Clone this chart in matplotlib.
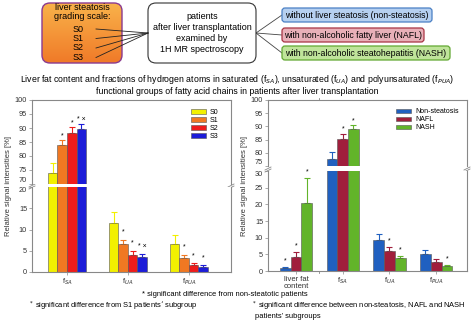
import numpy as np
import matplotlib.pyplot as plt
from matplotlib.patches import FancyBboxPatch
from matplotlib.colors import LinearSegmentedColormap

plt.rcParams['font.family'] = ['Liberation Sans', 'DejaVu Sans']

# left chart: steatosis grades
grades = ['S0', 'S1', 'S2', 'S3']
grade_colors = ['#f2f000', '#f07822', '#ee1c1c', '#1c1cd8']
left_groups = ['f$_{SA}$', 'f$_{UA}$', 'f$_{PUA}$']
left_vals = [[74.0, 11.5, 6.5],
             [84.0, 6.6, 3.3],
             [88.3, 4.1, 1.6],
             [89.8, 3.5, 1.2]]
left_errs = [[3.5, 2.7, 2.3],
             [1.7, 1.0, 0.8],
             [2.0, 0.9, 0.5],
             [1.5, 0.7, 0.4]]
left_stars = [['', '', ''],
              ['*', '*', '*'],
              ['*', '*', '*'],
              ['* \u00d7', '* \u00d7', '*']]

# right chart: patient subgroups
subgroups = ['Non-steatosis', 'NAFL', 'NASH']
sub_colors = ['#2060c0', '#a01e3c', '#62b42a']
right_groups = ['liver fat\ncontent', 'f$_{SA}$', 'f$_{UA}$', 'f$_{PUA}$']
right_vals = [[1.0, 77.5, 9.2, 5.0],
              [4.1, 85.3, 6.0, 2.8],
              [20.5, 89.2, 3.8, 1.4]]
right_errs = [[0.2, 2.8, 1.9, 1.4],
              [1.7, 2.0, 1.1, 0.9],
              [7.5, 1.3, 0.6, 0.4]]
right_stars = [['*', '', '', ''],
               ['*', '*', '*', ''],
               ['*', '*', '*', '*']]

W, H = 474, 323
fig = plt.figure(figsize=(W / 100, H / 100), dpi=100)


def px_axes(x0, x1, y0, y1):
    return fig.add_axes([x0 / W, (H - y1) / H, (x1 - x0) / W, (y1 - y0) / H])


# ---- schematic on top ----
top = fig.add_axes([0, 0, 1, 1])
top.set_xlim(0, W)
top.set_ylim(H, 0)
top.axis('off')

orange = FancyBboxPatch((42, 3), 80, 60, boxstyle='round,pad=0,rounding_size=8',
                        fc='none', ec='#8a3a90', lw=1.0, zorder=3)
top.add_patch(orange)
grad = np.linspace(0, 1, 100).reshape(-1, 1)
im = top.imshow(grad, extent=(42, 122, 63, 3),
                cmap=LinearSegmentedColormap.from_list('o', ['#f9b24a', '#f07a28']),
                aspect='auto', zorder=2, origin='upper')
im.set_clip_path(orange)
top.text(82, 12, 'liver steatosis\ngrading scale:', ha='center', va='center', fontsize=6.5,
         linespacing=1.05, zorder=4)
for i, g in enumerate(grades):
    top.text(78, 29 + i * 9.5, g, ha='center', va='center', fontsize=6.5, zorder=4)
    top.plot([96, 148], [29 + i * 9.5, 33], color='#222222', lw=0.6, zorder=4)

top.add_patch(FancyBboxPatch((148, 3), 108, 60, boxstyle='round,pad=0,rounding_size=8',
                             fc='white', ec='#333333', lw=0.8, zorder=3))
top.text(202, 33, 'patients\nafter liver transplantation\nexamined by\n1H MR spectroscopy',
         ha='center', va='center', fontsize=6.5, linespacing=1.25, zorder=4)

boxes = [(282, 8, 150, 14, '#b6d0f0', '#4a80c4', 'without liver steatosis (non-steatosis)'),
         (282, 28, 142, 14, '#e8b0b8', '#a83444', 'with non-alcoholic fatty liver (NAFL)'),
         (282, 46, 168, 14, '#bfe49a', '#62a832', 'with non-alcoholic steatohepatitis (NASH)')]
for bx, by, bw, bh, fc, ec, label in boxes:
    top.add_patch(FancyBboxPatch((bx, by), bw, bh, boxstyle='round,pad=0,rounding_size=3',
                                 fc=fc, ec=ec, lw=0.9, zorder=3))
    top.text(bx + bw / 2, by + bh / 2, label, ha='center', va='center', fontsize=6.3, zorder=4)
    top.plot([256, bx], [33, by + bh / 2], color='#444444', lw=0.6, zorder=2)

top.text(237, 80, 'Liver fat content and fractions of hydrogen atoms in saturated (f$_{SA}$), '
         'unsaturated (f$_{UA}$) and polyunsaturated (f$_{PUA}$)',
         ha='center', va='center', fontsize=6.3)
top.text(237, 92, 'functional groups of fatty acid chains in patients after liver transplantation',
         ha='center', va='center', fontsize=6.3)

top.text(225, 294, '* significant difference from non-steatotic patients', ha='center',
         va='center', fontsize=5.4)
top.text(28, 306, '$^*$ significant difference from S1 patients\u2019 subgroup', ha='left',
         va='center', fontsize=5.4)
top.text(251, 306, '$^*$ significant difference between non-steatosis, NAFL and NASH',
         ha='left', va='center', fontsize=5.4)
top.text(255, 316, 'patients\u2019 subgroups', ha='left', va='center', fontsize=5.4)

spine_col = '#888888'


def style(ax, upper):
    for s in ax.spines.values():
        s.set_color(spine_col)
        s.set_linewidth(0.8)
    if upper:
        ax.spines['bottom'].set_visible(False)
        ax.tick_params(axis='x', bottom=False, labelbottom=False)
    else:
        ax.spines['top'].set_visible(False)
    ax.tick_params(axis='both', labelsize=5.3, length=2, width=0.5, color=spine_col,
                   labelcolor='#333333', pad=1.5)


def draw_panel(ax_up, ax_lo, vals, errs, stars, colors, labels, width, xlim, ylims, ysteps):
    n_groups = len(vals[0])
    n_series = len(vals)
    x = np.arange(1, n_groups + 1)
    for ax in (ax_up, ax_lo):
        for i in range(n_series):
            xs = x + (i - (n_series - 1) / 2) * width
            ax.bar(xs, vals[i], width, color=colors[i], edgecolor='#555555', lw=0.4,
                   label=labels[i], zorder=2)
            ax.errorbar(xs, vals[i], yerr=[np.zeros(n_groups), errs[i]], fmt='none',
                        ecolor=colors[i], elinewidth=0.8, capsize=2, capthick=0.8, zorder=1)
        ax.set_xlim(*xlim)
    ax_up.set_ylim(*ylims[0])
    ax_lo.set_ylim(*ylims[1])
    ax_up.set_yticks(np.arange(ylims[0][0], ylims[0][1] + 1, ysteps))
    ax_lo.set_yticks(np.arange(ylims[1][0], ylims[1][1] + 1, ysteps))
    style(ax_up, True)
    style(ax_lo, False)
    # keep the two labels at the break apart
    ax_up.get_yticklabels()[0].set_va('bottom')
    ax_lo.get_yticklabels()[-1].set_va('top')
    # stars
    for i in range(n_series):
        xs = x + (i - (n_series - 1) / 2) * width
        for j in range(n_groups):
            if not stars[i][j]:
                continue
            top_y = vals[i][j] + errs[i][j]
            ax = ax_up if top_y > ylims[1][1] else ax_lo
            off = 1.6 if ax is ax_up else 1.8
            ax.text(xs[j], top_y + off, stars[i][j], ha='center', va='center',
                    fontsize=5, clip_on=False)
    return x


# ---- left chart ----
lu = px_axes(32, 231, 100, 184)
ll = px_axes(32, 231, 187, 272)
xl = draw_panel(lu, ll, left_vals, left_errs, left_stars, grade_colors, grades, 0.156,
                (0.426, 3.69), [(70, 100), (0, 20)], 5)
ll.set_xticks(xl)
ll.set_xticklabels(left_groups, fontsize=5.5)
lu.legend(loc='upper right', bbox_to_anchor=(0.97, 0.97), frameon=False, fontsize=5,
          handlelength=2.2, handleheight=0.6, labelspacing=0.15, handletextpad=0.6)
fig.text(9 / W, (H - 186) / H, 'Relative signal intensities [%]', rotation=90,
         ha='center', va='center', fontsize=5.5, color='#333333')

# ---- right chart ----
ru = px_axes(268, 467, 100, 166)
rl = px_axes(268, 467, 171, 271)
xr = draw_panel(ru, rl, right_vals, right_errs, right_stars, sub_colors, subgroups, 0.23,
                (0.40, 4.66), [(75, 100), (0, 30)], 5)
rl.set_xticks(xr)
rl.set_xticklabels(right_groups, fontsize=5.5, linespacing=0.95)
ru.legend(loc='upper right', bbox_to_anchor=(0.99, 0.97), frameon=False, fontsize=5,
          handlelength=2.2, handleheight=0.6, labelspacing=0.15, handletextpad=0.6)
fig.text(245 / W, (H - 186) / H, 'Relative signal intensities [%]', rotation=90,
         ha='center', va='center', fontsize=5.5, color='#333333')

# break marks on the axes
for bx, by in [(32, 185.5), (231, 185.5), (268, 168.5), (467, 168.5)]:
    top.plot([bx - 3, bx + 3], [by + 1.5, by - 1.5], color=spine_col, lw=0.6, zorder=5)
    top.plot([bx - 3, bx + 3], [by + 3.5, by + 0.5], color=spine_col, lw=0.6, zorder=5)
for by in [100, 271]:
    top.plot([319, 319], [by - 2, by + 2], color=spine_col, lw=0.6, zorder=5)

fig.savefig('out.png', dpi=100)
